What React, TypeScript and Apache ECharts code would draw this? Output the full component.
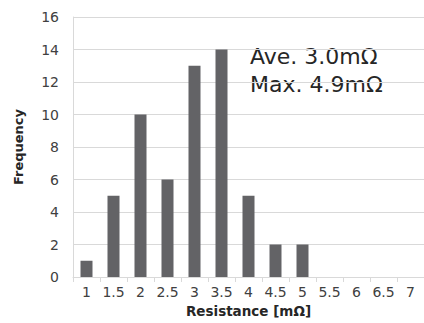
import React, { useEffect, useRef } from "react";
import * as echarts from "echarts";

const categories = ["1", "1.5", "2", "2.5", "3", "3.5", "4", "4.5", "5", "5.5", "6", "6.5", "7"];
const frequency = [1, 5, 10, 6, 13, 14, 5, 2, 2, 0, 0, 0, 0];
const annotationLines = ["Ave. 3.0mΩ", "Max. 4.9mΩ"];

export default function App() {
  const ref = useRef<HTMLDivElement>(null);
  useEffect(() => {
    const chart = echarts.init(ref.current!, null, { renderer: "svg" });
    const font = "'DejaVu Sans', Verdana, sans-serif";
    chart.setOption({
      animation: false,
      textStyle: { fontFamily: font },
      grid: { left: 73, top: 17, width: 355, height: 262, containLabel: false },
      xAxis: {
        type: "category",
        data: categories,
        name: "Resistance [mΩ]",
        nameLocation: "middle",
        nameGap: 27,
        nameTextStyle: { fontWeight: "bold", fontSize: 13.5, color: "#262626", fontFamily: font },
        axisLine: { lineStyle: { color: "#d9d9d9" } },
        axisTick: { show: true, alignWithLabel: false, length: 5, lineStyle: { color: "#d9d9d9" } },
        axisLabel: { fontSize: 14, color: "#404040", margin: 8, fontFamily: font, interval: 0, hideOverlap: false },
      },
      yAxis: {
        type: "value",
        min: 0,
        max: 16,
        interval: 2,
        name: "Frequency",
        nameLocation: "middle",
        nameGap: 48,
        nameTextStyle: { fontWeight: "bold", fontSize: 13, color: "#262626", fontFamily: font },
        axisLine: { show: true, lineStyle: { color: "#d9d9d9" } },
        axisTick: { show: false },
        axisLabel: { fontSize: 14, color: "#404040", margin: 14, fontFamily: font },
        splitLine: { lineStyle: { color: "#d9d9d9" } },
      },
      series: [
        {
          type: "bar",
          data: frequency,
          barWidth: 12,
          itemStyle: { color: "#636366" },
        },
      ],
      graphic: annotationLines.map((t, i) => ({
        type: "text",
        left: 250,
        top: 45 + i * 28,
        style: { text: t, fontSize: 22, fill: "#262626", fontFamily: font },
      })),
    });
    return () => chart.dispose();
  }, []);
  return <div ref={ref} style={{ width: 424, height: 323, position: "absolute", left: 0, top: 0, overflow: "hidden" }} />;
}
